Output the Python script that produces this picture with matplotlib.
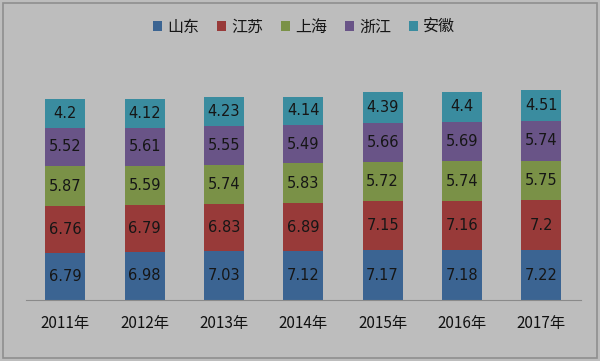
import matplotlib
matplotlib.use("Agg")
import matplotlib.pyplot as plt
import numpy as np

plt.rcParams['font.family'] = ['Noto Sans CJK SC', 'DejaVu Sans']

years = ["2011年", "2012年", "2013年", "2014年", "2015年", "2016年", "2017年"]
series_names = ["山东", "江苏", "上海", "浙江", "安徽"]
shandong = [6.79, 6.98, 7.03, 7.12, 7.17, 7.18, 7.22]
jiangsu = [6.76, 6.79, 6.83, 6.89, 7.15, 7.16, 7.2]
shanghai = [5.87, 5.59, 5.74, 5.83, 5.72, 5.74, 5.75]
zhejiang = [5.52, 5.61, 5.55, 5.49, 5.66, 5.69, 5.74]
anhui = [4.2, 4.12, 4.23, 4.14, 4.39, 4.4, 4.51]
labels_text = [
    ["6.79", "6.98", "7.03", "7.12", "7.17", "7.18", "7.22"],
    ["6.76", "6.79", "6.83", "6.89", "7.15", "7.16", "7.2"],
    ["5.87", "5.59", "5.74", "5.83", "5.72", "5.74", "5.75"],
    ["5.52", "5.61", "5.55", "5.49", "5.66", "5.69", "5.74"],
    ["4.2", "4.12", "4.23", "4.14", "4.39", "4.4", "4.51"],
]
colors = ["#3B6492", "#983A39", "#7A9147", "#695487", "#3A8C9F"]

bg = "#BDBDBD"
fig = plt.figure(figsize=(6, 3.61), dpi=100, facecolor=bg)
ax = fig.add_axes([0.043, 0.169, 0.925, 0.70])
ax.set_facecolor(bg)

x = np.arange(len(years))
bottom = np.zeros(len(years))
data = [shandong, jiangsu, shanghai, zhejiang, anhui]
handles = []
for vals, name, col, txt in zip(data, series_names, colors, labels_text):
    vals = np.array(vals)
    b = ax.bar(x, vals, 0.505, bottom=bottom, color=col, label=name, edgecolor='none')
    handles.append(b)
    for xi, bi, vi, t in zip(x, bottom, vals, txt):
        ax.text(xi, bi + vi / 2, t, ha='center', va='center', fontsize=10.5,
                color='#161616', family=['DejaVu Sans'])
    bottom = bottom + vals

ax.set_xlim(-0.5, len(years) - 0.5)
ax.set_ylim(0, 36.6)
ax.set_xticks(x)
ax.set_xticklabels(years, fontsize=11, color='#111111')
ax.tick_params(axis='x', length=0, pad=11)
ax.set_yticks([])
for s in ['top', 'right', 'left']:
    ax.spines[s].set_visible(False)
ax.spines['bottom'].set_color('#8a8a8a')

leg = fig.legend(handles=handles, labels=series_names, loc='center', ncol=5,
                 bbox_to_anchor=(0.507, 0.925), frameon=False, fontsize=11.5,
                 handlelength=0.55, handleheight=0.55, handletextpad=0.35,
                 columnspacing=1.1)
for t in leg.get_texts():
    t.set_color('#161616')

border = plt.Rectangle((0.005, 0.008), 0.99, 0.984, transform=fig.transFigure,
                       fill=False, edgecolor='#8f8f8f', linewidth=1.2)
fig.patches.append(border)

fig.savefig("out.png", dpi=100, facecolor=bg)
